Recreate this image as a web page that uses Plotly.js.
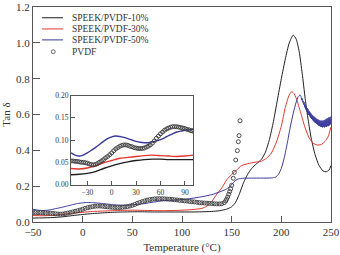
<!DOCTYPE html>
<html>
<head>
<meta charset="utf-8">
<script src="https://cdn.plot.ly/plotly-3.0.1.min.js"></script>
<style>
  html, body { margin: 0; padding: 0; background: #fff; }
  #chart { width: 340px; height: 255px; }
</style>
</head>
<body>
<div id="chart"></div>
<script>
// Loss tangent (tan δ) versus temperature for SPEEK/PVDF blends and neat PVDF

// SPEEK/PVDF-10%
const temp10 = [-50,-40,-30,-20,-10,0,10,20,30,40,50,60,70,80,90,100,110,120,130,138,145,150,154,158,162,166,170,175,180,184,188,192,196,200,204,208,212,215,218,221,224,227,230,234,238,242,245,248,250];
const tan10  = [0.022,0.023,0.025,0.029,0.036,0.042,0.047,0.051,0.054,0.056,0.057,0.057,0.056,0.056,0.056,0.056,0.056,0.057,0.059,0.063,0.072,0.085,0.11,0.16,0.22,0.265,0.298,0.325,0.35,0.39,0.46,0.56,0.68,0.8,0.91,1.0,1.043,1.02,0.95,0.83,0.69,0.57,0.47,0.375,0.315,0.285,0.28,0.29,0.315];

// SPEEK/PVDF-30%
const temp30 = [-50,-40,-30,-20,-10,0,10,20,30,40,50,60,70,80,90,100,110,120,125,130,135,140,145,150,155,160,170,180,185,190,195,200,204,208,210.5,213,216,220,224,228,232,236,240,244,247,250];
const tan30  = [0.036,0.035,0.037,0.042,0.049,0.054,0.059,0.061,0.063,0.065,0.066,0.065,0.064,0.063,0.064,0.066,0.069,0.076,0.088,0.115,0.155,0.19,0.235,0.265,0.29,0.315,0.33,0.34,0.355,0.385,0.445,0.535,0.64,0.71,0.727,0.715,0.675,0.6,0.525,0.47,0.44,0.43,0.432,0.45,0.475,0.53];

// SPEEK/PVDF-50%
const temp50 = [-50,-45,-40,-35,-30,-25,-20,-15,-10,-5,0,5,10,15,20,25,30,35,40,45,50,55,60,65,70,75,80,85,90,95,100,110,120,130,138,144,148,151,154,157,161,170,180,190,194,197,200,203,206,209,212,215,217,218.8,219.5,
  220,220.5,221,221.5,222,222.5,223,223.5,224,224.5,225,225.5,226,226.5,227,227.5,228,228.5,229,229.5,230,230.5,231,231.5,232,232.5,233,233.5,234,234.5,235,235.5,236,236.5,237,237.5,238,238.5,239,239.5,240,240.5,241,241.5,242,242.5,243,243.5,244,244.5,245,245.5,246,246.5,247,247.5,248,248.5,249,249.5,250];
const tan50  = [0.071,0.066,0.064,0.066,0.071,0.077,0.083,0.090,0.097,0.103,0.107,0.109,0.108,0.106,0.103,0.100,0.097,0.095,0.094,0.094,0.096,0.098,0.101,0.105,0.110,0.114,0.118,0.120,0.122,0.123,0.125,0.132,0.141,0.153,0.168,0.182,0.197,0.215,0.232,0.241,0.244,0.245,0.245,0.246,0.25,0.265,0.3,0.36,0.44,0.53,0.607,0.67,0.70,0.709,0.705,
  0.695,0.680,0.690,0.668,0.676,0.655,0.668,0.640,0.655,0.628,0.645,0.618,0.636,0.605,0.628,0.597,0.620,0.590,0.612,0.582,0.605,0.575,0.598,0.568,0.592,0.562,0.588,0.556,0.583,0.552,0.578,0.548,0.575,0.543,0.572,0.538,0.568,0.535,0.566,0.532,0.565,0.530,0.566,0.528,0.565,0.530,0.568,0.528,0.570,0.532,0.575,0.530,0.578,0.535,0.580,0.535,0.585,0.540,0.585,0.545,0.590];

// Neat PVDF (open circles)
const tempPVDF = [-50,-47.5,-45,-42.5,-40,-37.5,-35,-32.5,-30,-27.5,-25,-22.5,-20,-17.5,-15,-12.5,-10,-7.5,-5,-2.5,0,2.5,5,7.5,10,12.5,15,17.5,20,22.5,25,27.5,30,32.5,35,37.5,40,42.5,45,47.5,50,52.5,55,57.5,60,62.5,65,67.5,70,72.5,75,77.5,80,82.5,85,87.5,90,92.5,95,97.5,100,102.5,105,107.5,110,112.5,115,117.5,120,122.5,125,127.5,130,132.5,135,137.5,140,142.5,144,145,146,147,148,149,150,151.6,152.7,154.1,155.7,156.7,157.4,158.4];
const tanPVDF  = [0.053,0.053,0.052,0.052,0.051,0.050,0.050,0.049,0.048,0.046,0.045,0.044,0.045,0.047,0.050,0.053,0.056,0.060,0.063,0.067,0.071,0.076,0.080,0.083,0.086,0.088,0.089,0.089,0.088,0.086,0.085,0.083,0.082,0.081,0.081,0.081,0.082,0.084,0.086,0.089,0.093,0.098,0.104,0.109,0.114,0.118,0.122,0.125,0.127,0.129,0.130,0.130,0.130,0.129,0.128,0.127,0.126,0.124,0.123,0.121,0.120,0.118,0.117,0.115,0.113,0.112,0.110,0.108,0.107,0.106,0.105,0.104,0.103,0.102,0.101,0.101,0.102,0.108,0.118,0.128,0.140,0.155,0.170,0.185,0.205,0.244,0.277,0.346,0.398,0.448,0.482,0.565];

const seriesNames = ['SPEEK/PVDF-10%', 'SPEEK/PVDF-30%', 'SPEEK/PVDF-50%', 'PVDF'];
const mainTicksX = [-50, 0, 50, 100, 150, 200, 250];
const insetTicksX = [-30, 0, 30, 60, 90];

const colBlack = '#1e1e1e';
const colRed = '#e2372c';
const colBlue = '#38379a';
const colAxis = '#555555';
const colText = '#333333';
const serif = 'Liberation Serif, Times New Roman, serif';

function lineTrace(x, y, color, name, xa, ya, w) {
  return {
    x: x, y: y, name: name, type: 'scatter', mode: 'lines',
    line: { color: color, width: w, shape: 'spline', smoothing: 0.6 },
    xaxis: xa, yaxis: ya, showlegend: false, hoverinfo: 'skip'
  };
}
function pvdfTrace(xa, ya, size) {
  return {
    x: tempPVDF, y: tanPVDF, name: seriesNames[3], type: 'scatter', mode: 'markers',
    marker: { symbol: 'circle-open', size: size, color: '#3a3a3a', line: { width: 0.9 } },
    xaxis: xa, yaxis: ya, showlegend: false, hoverinfo: 'skip'
  };
}

const traces = [
  // main panel
  lineTrace(temp10, tan10, colBlack, seriesNames[0], 'x', 'y', 1),
  lineTrace(temp30, tan30, colRed, seriesNames[1], 'x', 'y', 1),
  lineTrace(temp50, tan50, colBlue, seriesNames[2], 'x', 'y', 1),
  pvdfTrace('x', 'y', 4),
  // inset, low-temperature detail
  lineTrace(temp10, tan10, colBlack, seriesNames[0], 'x2', 'y2', 1.4),
  lineTrace(temp30, tan30, colRed, seriesNames[1], 'x2', 'y2', 1.4),
  lineTrace(temp50, tan50, colBlue, seriesNames[2], 'x2', 'y2', 1.4),
  pvdfTrace('x2', 'y2', 4)
];

// hand-drawn legend block in the upper left corner
const legendRows = [0.950, 0.898, 0.847, 0.792];
const legendColors = [colBlack, colRed, colBlue];
const annotations = seriesNames.map((name, i) => ({
  xref: 'paper', yref: 'paper', x: 0.124, y: legendRows[i],
  xanchor: 'left', yanchor: 'middle', showarrow: false, text: name,
  font: { family: serif, size: 9.5, color: colText }
}));
const shapes = legendColors.map((c, i) => ({
  type: 'line', xref: 'paper', yref: 'paper',
  x0: 0.030, x1: 0.101, y0: legendRows[i], y1: legendRows[i],
  line: { color: c, width: 1 }
}));
shapes.push({
  type: 'circle', xref: 'paper', yref: 'paper',
  x0: 0.068 - 0.0065, x1: 0.068 + 0.0065,
  y0: legendRows[3] - 0.009, y1: legendRows[3] + 0.009,
  line: { color: '#555', width: 0.9 }
});

const layout = {
  width: 340, height: 255,
  margin: { l: 33, r: 9, t: 7, b: 33, pad: 0 },
  paper_bgcolor: '#ffffff', plot_bgcolor: '#ffffff',
  font: { family: serif, color: colText, size: 11 },
  showlegend: false,
  xaxis: {
    domain: [0, 1], range: [-50, 250], tickvals: mainTicksX,
    ticks: 'inside', ticklen: 6, tickwidth: 1, tickcolor: colAxis,
    showline: true, linecolor: colAxis, linewidth: 1, mirror: true,
    showgrid: false, zeroline: false,
    tickfont: { family: serif, size: 11, color: colText },
    title: { text: 'Temperature (°C)', font: { family: serif, size: 11, color: colText }, standoff: 6 }
  },
  yaxis: {
    domain: [0, 1], range: [0, 1.2], dtick: 0.2, tick0: 0, tickformat: '.1f',
    ticks: 'inside', ticklen: 7, tickwidth: 1, tickcolor: colAxis,
    showline: true, linecolor: colAxis, linewidth: 1, mirror: true,
    showgrid: false, zeroline: false,
    tickfont: { family: serif, size: 11, color: colText },
    title: { text: 'Tan δ', font: { family: serif, size: 11, color: colText }, standoff: 4 }
  },
  xaxis2: {
    domain: [0.1275, 0.537], anchor: 'y2', range: [-50, 100], tickvals: insetTicksX,
    ticks: 'inside', ticklen: 4, tickwidth: 1, tickcolor: colAxis,
    showline: true, linecolor: colAxis, linewidth: 1, mirror: true,
    showgrid: false, zeroline: false,
    tickfont: { family: serif, size: 7.5, color: colText }
  },
  yaxis2: {
    domain: [0.1744, 0.588], anchor: 'x2', range: [0, 0.2], dtick: 0.05, tick0: 0, tickformat: '.2f',
    ticks: 'inside', ticklen: 4, tickwidth: 1, tickcolor: colAxis,
    showline: true, linecolor: colAxis, linewidth: 1, mirror: true,
    showgrid: false, zeroline: false,
    tickfont: { family: serif, size: 7.5, color: colText }
  },
  annotations: annotations,
  shapes: shapes
};

Plotly.newPlot('chart', traces, layout, { displayModeBar: false, staticPlot: true });
</script>
</body>
</html>
